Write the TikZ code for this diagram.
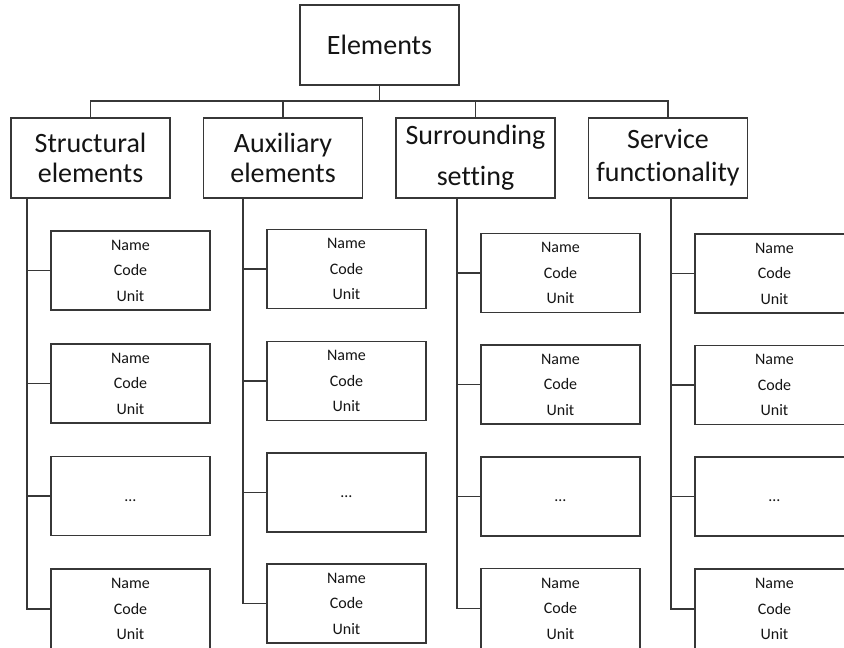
\documentclass[tikz,border=0pt]{standalone}
\usepackage{fontspec}
\setmainfont[Ligatures=NoCommon]{Carlito}
\begin{document}
\definecolor{linegray}{RGB}{55,55,55}
\definecolor{textblack}{RGB}{20,20,20}
\begin{tikzpicture}[x=1pt,y=-1pt,
  every node/.style={text=textblack},
  box/.style={draw=linegray,line width=1.6pt,rectangle,minimum width=159pt,minimum height=79pt,inner sep=0pt,align=center},
  topbox/.style={box,minimum height=80pt,font=\fontsize{28}{30}\selectfont},
  catbox/.style={box,minimum height=80pt},
  itembox/.style={box,font=\fontsize{16}{25.5}\selectfont},
  link/.style={draw=linegray,line width=1.6pt}
]
\clip (0,0) rectangle (844,648);

% root
\node[topbox] (root) at (379.5,45) {Elements};

% categories
\node[catbox,font=\fontsize{28}{30}\selectfont] (c1) at (90.5,158) {Structural\\elements};
\node[catbox,font=\fontsize{28}{30}\selectfont] (c2) at (283,158) {Auxiliary\\elements};
\node[catbox,font=\fontsize{28}{41}\selectfont] (c3) at (475.5,158) {Surrounding\\setting};
\node[catbox,font=\fontsize{28}{33}\selectfont] (c4) at (668,158) {Service\\functionality};

% items of each category
\newcommand{\itemtext}{Name\\Code\\Unit}
\newcommand{\moreitems}{\strut…}
\node[itembox] (a1) at (130.5,270.5) {\itemtext};
\node[itembox] (a2) at (130.5,383.5) {\itemtext};
\node[itembox] (a3) at (130.5,496) {\moreitems};
\node[itembox,minimum height=80pt] (a4) at (130.5,609) {\itemtext};

\node[itembox] (b1) at (346.5,269) {\itemtext};
\node[itembox] (b2) at (346.5,381) {\itemtext};
\node[itembox] (b3) at (346.5,492.5) {\moreitems};
\node[itembox] (b4) at (346.5,603.5) {\itemtext};

\node[itembox] (d1) at (560.5,273) {\itemtext};
\node[itembox] (d2) at (560.5,384.5) {\itemtext};
\node[itembox] (d3) at (560.5,496.5) {\moreitems};
\node[itembox,minimum height=80pt] (d4) at (560.5,608.5) {\itemtext};

\node[itembox] (e1) at (774.5,273.5) {\itemtext};
\node[itembox] (e2) at (774.5,385) {\itemtext};
\node[itembox] (e3) at (774.5,496.5) {\moreitems};
\node[itembox,minimum height=80pt] (e4) at (774.5,609) {\itemtext};

% bus from the root to the categories
\coordinate (bus) at (0,101);
\draw[link] (root.south) -- (root.south |- bus);
\draw[link] (c1.north) -- (c1.north |- bus) -- (c4.north |- bus) -- (c4.north);
\draw[link] (c2.north) -- (c2.north |- bus);
\draw[link] (c3.north) -- (c3.north |- bus);

% trunks down each column with branches to the items
\foreach \c/\i in {c1/a,c2/b,c3/d,c4/e}{
  \coordinate (trunk) at ([xshift=-23pt]\i1.west |- \c.south);
  \draw[link] (trunk) |- (\i4.west);
  \foreach \k in {1,2,3}{
    \draw[link] (trunk |- \i\k.west) -- (\i\k.west);
  }
}
\end{tikzpicture}
\end{document}
